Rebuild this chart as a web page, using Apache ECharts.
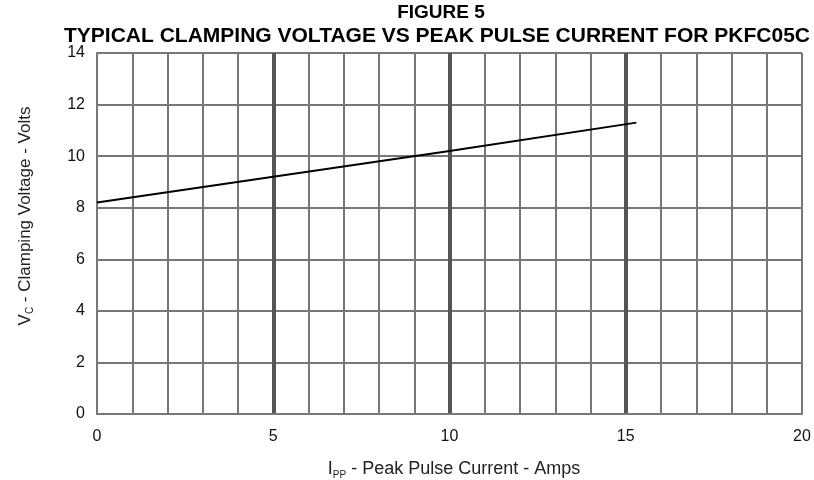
<!DOCTYPE html>
<html>
<head>
<meta charset="utf-8">
<script src="https://cdn.jsdelivr.net/npm/echarts@6/dist/echarts.min.js"></script>
<style>
  html, body { margin: 0; padding: 0; background: #fff; }
  #main { width: 814px; height: 480px; }
</style>
</head>
<body>
<div id="main"></div>
<script>
// 读图数据
var currentAmps = [0, 5, 10, 15.3];
var clampVolts = [8.2, 9.2, 10.2, 11.3];
var xTicks = [0, 5, 10, 15, 20];
var yTicks = [0, 2, 4, 6, 8, 10, 12, 14];

var myChart = echarts.init(document.getElementById('main'));
var font = 'Liberation Sans, Arial, Helvetica, sans-serif';

var option = {
    animation: false,
    backgroundColor: '#fff',
    grid: { left: 97, right: 12, top: 53, bottom: 66 },
    graphic: [
        {
            type: 'text', x: 441, y: 3,
            style: { text: 'FIGURE 5', font: 'bold 19px ' + font, fill: '#000', textAlign: 'center' }
        },
        {
            type: 'text', x: 437, y: 26,
            style: { text: 'TYPICAL CLAMPING VOLTAGE VS PEAK PULSE CURRENT FOR PKFC05C', font: 'bold 21px ' + font, fill: '#000', textAlign: 'center' }
        },
        {
            type: 'text', x: 454, y: 469,
            style: {
                text: '{a|I}{s|PP}{a| - Peak Pulse Current - Amps}',
                textAlign: 'center', textVerticalAlign: 'middle',
                rich: {
                    a: { fontSize: 18, fontFamily: font, fill: '#222' },
                    s: { fontSize: 10, fontFamily: font, fill: '#222', padding: [12, 0, 0, 0] }
                }
            }
        },
        {
            type: 'text', x: 25, y: 216, rotation: Math.PI / 2,
            style: {
                text: '{a|V}{s|C}{a| - Clamping Voltage - Volts}',
                textAlign: 'center', textVerticalAlign: 'middle',
                rich: {
                    a: { fontSize: 17, fontFamily: font, fill: '#222' },
                    s: { fontSize: 10, fontFamily: font, fill: '#222', padding: [11, 0, 0, 0] }
                }
            }
        }
    ],
    xAxis: [
        {
            type: 'value', min: xTicks[0], max: xTicks[xTicks.length - 1], interval: 5,
            axisLine: { show: true, onZero: false, lineStyle: { color: '#777', width: 2 } },
            axisTick: { show: false },
            axisLabel: { color: '#111', fontSize: 16, fontFamily: font, margin: 15 },
            splitLine: { show: true, showMinLine: false, showMaxLine: false, lineStyle: { color: '#555', width: 4 } },
            z: 3
        },
        {
            type: 'value', min: xTicks[0], max: xTicks[xTicks.length - 1], interval: 1,
            axisLine: { show: false }, axisTick: { show: false }, axisLabel: { show: false },
            splitLine: { show: true, lineStyle: { color: '#777', width: 2 } }
        }
    ],
    yAxis: {
        type: 'value', min: yTicks[0], max: yTicks[yTicks.length - 1], interval: 2,
        axisLine: { show: true, onZero: false, lineStyle: { color: '#777', width: 2 } },
        axisTick: { show: false },
        axisLabel: { color: '#111', fontSize: 16, fontFamily: font, margin: 12 },
        splitLine: { show: true, lineStyle: { color: '#777', width: 2 } }
    },
    series: [
        {
            type: 'line',
            xAxisIndex: 0,
            data: currentAmps.map(function (x, i) { return [x, clampVolts[i]]; }),
            symbol: 'none',
            lineStyle: { color: '#000', width: 2 },
            z: 5
        }
    ]
};

myChart.setOption(option);
</script>
</body>
</html>
